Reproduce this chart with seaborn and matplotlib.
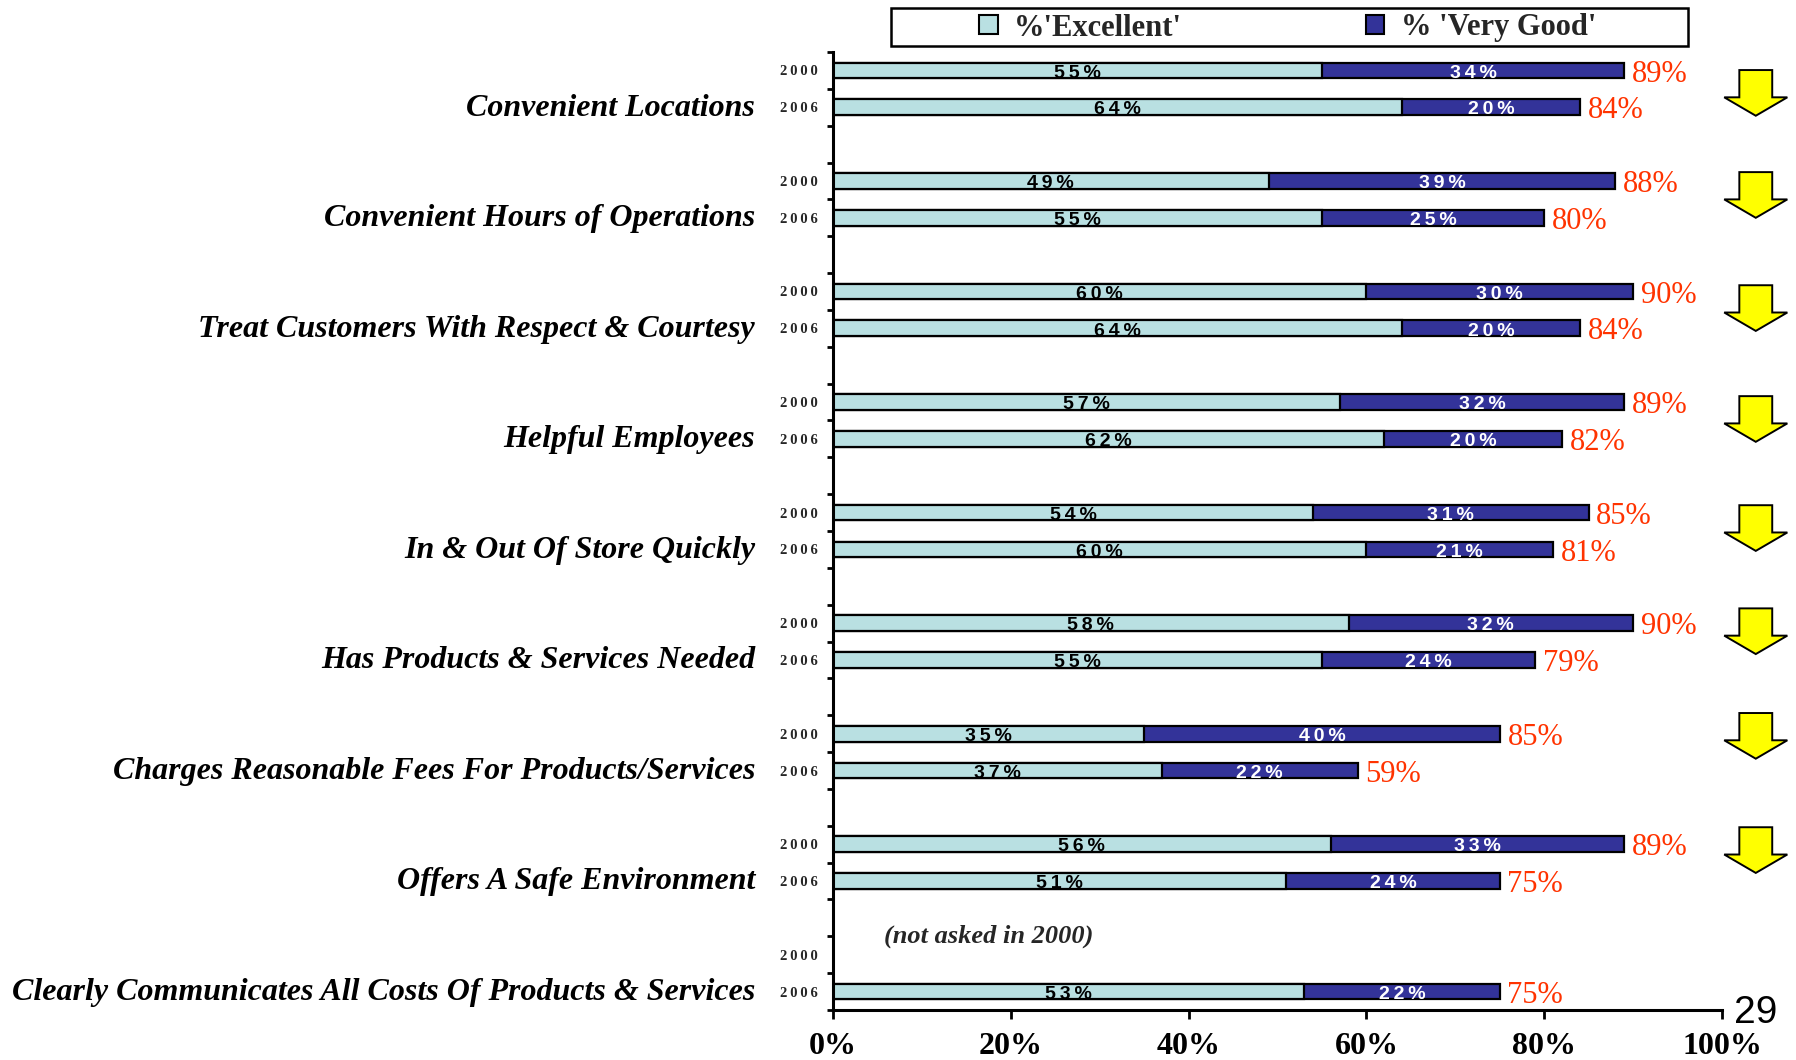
import numpy as np
import pandas as pd
import matplotlib
matplotlib.use("Agg")
import matplotlib.pyplot as plt
import matplotlib.transforms as mtransforms
from matplotlib.patches import Patch, FancyArrow, Rectangle
import seaborn as sns

# ---- data -------------------------------------------------------------
categories = [
    "Convenient Locations",
    "Convenient Hours of Operations",
    "Treat Customers With Respect & Courtesy",
    "Helpful Employees",
    "In & Out Of Store Quickly",
    "Has Products & Services Needed",
    "Charges Reasonable Fees For Products/Services",
    "Offers A Safe Environment",
    "Clearly Communicates All Costs Of Products & Services",
]
years = ["2000", "2006"]
excellent_2000 = [55, 49, 60, 57, 54, 58, 35, 56, None]
very_good_2000 = [34, 39, 30, 32, 31, 32, 40, 33, None]
total_2000 = [89, 88, 90, 89, 85, 90, 85, 89, None]
excellent_2006 = [64, 55, 64, 62, 60, 55, 37, 51, 53]
very_good_2006 = [20, 25, 20, 20, 21, 24, 22, 24, 22]
total_2006 = [84, 80, 84, 82, 81, 79, 59, 75, 75]
declined = [True, True, True, True, True, True, True, True, False]
x_ticks = [0, 20, 40, 60, 80, 100]
legend_labels = ["%'Excellent'", "% 'Very Good'"]
note_text = "(not asked in 2000)"
page_number = "29"

# ---- styling ----------------------------------------------------------
LIGHT = "#B9E0E2"
DARK = "#333399"
RED = "#FF3300"
YELLOW = "#FFFF00"
SERIF = ["Liberation Serif", "DejaVu Serif"]
SANS = ["Liberation Sans", "DejaVu Sans"]

sns.set_theme(style="white")
plt.rcParams["font.family"] = SERIF


def spaced(s):
    """Open up the letter spacing of a short label with thin spaces."""
    return "\u2009".join(s)


# one row per bar: each category takes three slots (2000, 2006, gap)
rows = []
for i, cat in enumerate(categories):
    for j, (exc, vg, tot) in enumerate([
        (excellent_2000[i], very_good_2000[i], total_2000[i]),
        (excellent_2006[i], very_good_2006[i], total_2006[i]),
    ]):
        if exc is None:
            continue
        rows.append({"category": cat, "year": years[j], "pos": 3 * i + j + 0.5,
                     "excellent": exc, "very_good": vg,
                     "combined": exc + vg, "total_label": tot})
df = pd.DataFrame(rows)
n_slots = 3 * len(categories) - 1

fig = plt.figure(figsize=(17.96, 10.60), dpi=100)
ax = fig.add_axes([833 / 1796, 1 - 1010 / 1060, 889 / 1796, 958 / 1060])

bar_kw = dict(orient="h", native_scale=True, width=0.43, edgecolor="black",
              linewidth=1.6, saturation=1, errorbar=None, ax=ax)
sns.barplot(data=df, x="combined", y="pos", color=DARK, **bar_kw)
sns.barplot(data=df, x="excellent", y="pos", color=LIGHT, **bar_kw)

ax.set_xlim(0, 100)
ax.set_ylim(n_slots, 0)
ax.set_xlabel("")
ax.set_ylabel("")

# axes frame
for side in ["top", "right"]:
    ax.spines[side].set_visible(False)
for side in ["left", "bottom"]:
    ax.spines[side].set_linewidth(2.2)
    ax.spines[side].set_color("black")

ax.set_xticks(x_ticks)
ax.set_xticklabels([f"{t}%" for t in x_ticks], fontsize=23, fontweight="bold",
                   family=SERIF)
ax.tick_params(axis="x", direction="out", length=6.5, width=2, pad=9.5,
               colors="black", bottom=True)

ax.set_yticks(np.arange(0, n_slots + 1))
ax.set_yticklabels([])
ax.tick_params(axis="y", which="major", direction="out", length=4.5, width=2,
               left=True, colors="black")
year_pos = [3 * i + j + 0.5 for i in range(len(categories)) for j in range(2)]
year_lab = [years[j] for i in range(len(categories)) for j in range(2)]
ax.set_yticks(year_pos, minor=True)
ax.set_yticklabels([spaced(y) for y in year_lab], minor=True, fontsize=10.5,
                   fontweight="bold", family=SERIF)
ax.tick_params(axis="y", which="minor", length=0, pad=11, left=True)

# category names, aligned with the 2006 bar
for i, cat in enumerate(categories):
    ax.annotate(cat, xy=(0, 3 * i + 1.5), xycoords=("axes fraction", "data"),
                xytext=(-56, -6), textcoords="offset points",
                ha="right", va="baseline", fontsize=23, fontweight="bold",
                fontstyle="italic", family=SERIF, color="black")

# segment values and totals
for _, r in df.iterrows():
    ax.annotate(spaced(f"{r.excellent}%"), xy=(r.excellent / 2, r.pos),
                xytext=(0, -5.2), textcoords="offset points",
                ha="center", va="baseline", fontsize=14, fontweight="bold",
                family=SANS, color="black")
    ax.annotate(spaced(f"{r.very_good}%"),
                xy=(r.excellent + r.very_good / 2, r.pos),
                xytext=(0, -5.2), textcoords="offset points",
                ha="center", va="baseline", fontsize=14, fontweight="bold",
                family=SANS, color="white")
    ax.annotate(f"{r.total_label}%", xy=(r.combined, r.pos),
                xytext=(5.5, -8), textcoords="offset points",
                ha="left", va="baseline", fontsize=22, family=SERIF,
                color=RED, annotation_clip=False)

ax.text(5.7, 24.0, note_text, ha="left", va="center", fontsize=19,
        fontweight="bold", fontstyle="italic", family=SERIF)

# decline arrows beside each category
trans = mtransforms.blended_transform_factory(ax.transAxes, ax.transData)
arrow_shift = [0.11, -0.12, -0.05, -0.04, -0.08, -0.28, -0.44, -0.34, 0.0]
for i, down in enumerate(declined):
    if not down:
        continue
    yc = 3 * i + 1 + arrow_shift[i]
    arrow = FancyArrow(1.038, yc - 0.62, 0, 1.24, width=0.037,
                       head_width=0.071, head_length=0.5,
                       length_includes_head=True, transform=trans,
                       clip_on=False, facecolor=YELLOW, edgecolor="black",
                       linewidth=1.4)
    ax.add_patch(arrow)

# legend
handles = [Patch(facecolor=LIGHT, edgecolor="black", linewidth=1.5),
           Patch(facecolor=DARK, edgecolor="black", linewidth=1.5)]
fig.legend(handles, legend_labels, ncol=2, loc="center left",
           bbox_to_anchor=(967 / 1796, 1 - 28 / 1060), frameon=False,
           borderaxespad=0, borderpad=0.4,
           handlelength=0.6, handleheight=0.6, handletextpad=0.55,
           columnspacing=6.0,
           prop={"family": SERIF, "weight": "bold", "size": 22})
fig.add_artist(Rectangle((891 / 1796, 1 - 46 / 1060), 797 / 1796, 38 / 1060,
                         transform=fig.transFigure, fill=False,
                         edgecolor="black", linewidth=1.8))

fig.text(1756 / 1796, 1 - 1023 / 1060, page_number, ha="center",
         va="baseline", fontsize=28, family=SANS, color="black")

fig.savefig("out.png", dpi=100, facecolor="white")
